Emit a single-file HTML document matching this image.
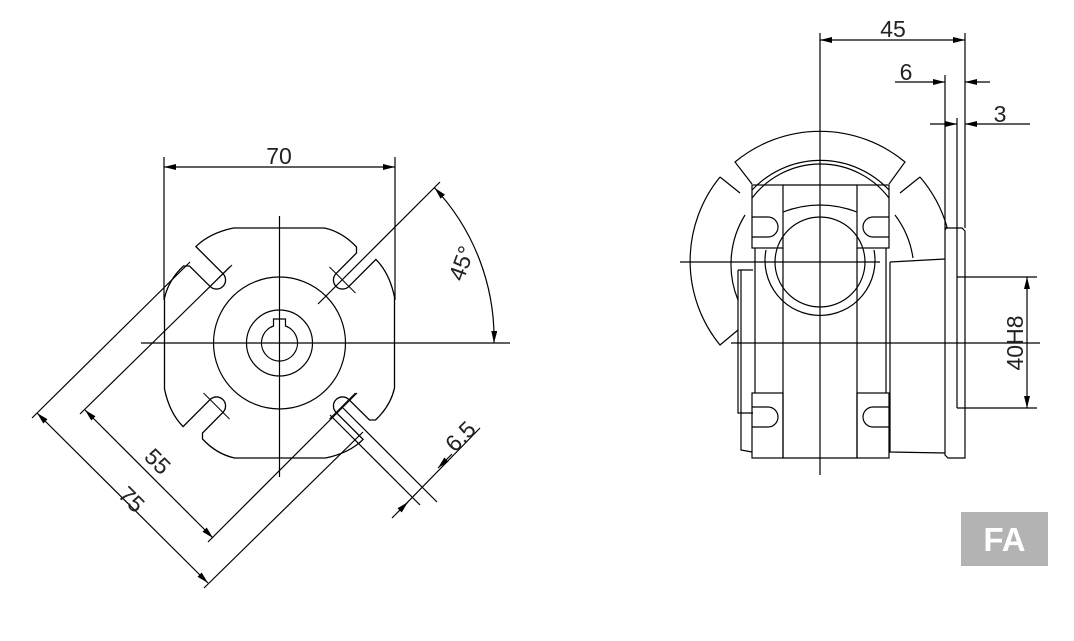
<!DOCTYPE html>
<html><head><style>html,body{margin:0;padding:0;background:#fff}svg{display:block}</style></head>
<body>
<svg width="1074" height="641" viewBox="0 0 1074 641" xmlns="http://www.w3.org/2000/svg">
<defs>
<marker id="a" viewBox="0 0 12 6" refX="12" refY="3" markerWidth="12" markerHeight="6" markerUnits="userSpaceOnUse" orient="auto-start-reverse"><path d="M0,0 L12,3 L0,6 Z" fill="#000"/></marker>
<g id="q">
<path d="M0,-115 L45,-115 Q63,-111 77,-96 L77,-90 L56.6,-69.4 A9 9 0 0 0 69.4,-56.6 L96.4,-83.6 Q110,-70 115,-46 L115,0" fill="none" stroke="#000" stroke-width="1.3"/>
<line x1="50" y1="-76" x2="76" y2="-50" stroke="#000" stroke-width="1"/>
</g>
</defs>
<g stroke="#000" fill="none" stroke-width="1.2">
<!-- LEFT VIEW -->
<g transform="translate(279.5,343)">
<use href="#q"/><use href="#q" transform="rotate(90)"/><use href="#q" transform="rotate(180)"/><use href="#q" transform="rotate(270)"/>
<circle r="66"/><circle r="33"/>
<path d="M-6,-24 L-6,-17 A18 18 0 1 0 6,-17 L6,-24 Z"/>
</g>
<line x1="141" y1="343" x2="510" y2="343"/>
<line x1="279.5" y1="216" x2="279.5" y2="477"/>
<!-- 70 -->
<line x1="164" y1="157" x2="164" y2="300"/>
<line x1="395" y1="157" x2="395" y2="300"/>
<line x1="164" y1="167" x2="395" y2="167" marker-start="url(#a)" marker-end="url(#a)"/>
<!-- 45 deg -->
<line x1="318" y1="304" x2="440" y2="182"/>
<path d="M434.6,187.9 A220 220 0 0 1 494,343" marker-start="url(#a)" marker-end="url(#a)"/>
<!-- 75 / 55 -->
<line x1="32" y1="418" x2="190" y2="262"/>
<line x1="80" y1="414" x2="232" y2="265"/>
<line x1="204" y1="588" x2="363" y2="432"/>
<line x1="208" y1="542" x2="357" y2="393"/>
<line x1="37" y1="413" x2="208" y2="583" marker-start="url(#a)" marker-end="url(#a)"/>
<line x1="85" y1="410" x2="213" y2="538" marker-start="url(#a)" marker-end="url(#a)"/>
<!-- 6.5 -->
<line x1="343" y1="408" x2="437" y2="502"/>
<line x1="330" y1="415" x2="420" y2="505"/>
<line x1="400" y1="510" x2="480" y2="428"/>
<line x1="392" y1="518" x2="408" y2="502" marker-end="url(#a)"/>
<line x1="452" y1="454" x2="438" y2="468" marker-end="url(#a)"/>

<!-- RIGHT VIEW -->
<path d="M752,184 L735,162 A133 133 0 0 1 905,162 L889,184"/>
<path d="M720,177 A133 133 0 0 0 720,345 L738,330"/>
<path d="M720,177 L740,193"/>
<path d="M920,177 A133 133 0 0 1 947,227 L945,230"/>
<path d="M920,177 L900,193"/>
<path d="M752,190 A94 94 0 0 1 889,190"/>
<path d="M752,198 A86 86 0 0 1 889,198"/>
<path d="M738,300 A94 94 0 0 1 745,215"/>
<path d="M895,215 A94 94 0 0 1 913,258"/>
<circle cx="820" cy="262" r="45"/>
<path d="M766,250 A55 55 0 1 0 874,250"/>
<rect x="752" y="185" width="31" height="63"/>
<rect x="857" y="185" width="32" height="63"/>
<path d="M783,185 L857,185 M783,212 Q820,198 857,212"/>
<path d="M752,217 L768,217 A10 10 0 0 1 768,237 L752,237"/>
<path d="M889,217 L873,217 A10 10 0 0 0 873,237 L889,237"/>
<path d="M755,248 L755,393 M783,248 L783,458 M857,248 L857,458 M886,248 L886,393"/>
<rect x="752" y="393" width="31" height="65"/>
<rect x="857" y="393" width="32" height="65"/>
<path d="M752,407 L768,407 A10 10 0 0 1 768,427 L752,427"/>
<path d="M889,407 L873,407 A10 10 0 0 0 873,427 L889,427"/>
<path d="M783,458 L857,458"/>
<path d="M738,270 L753,270 M738,270 L738,413 L753,413 M741,270 L741,450 L752,452"/>
<path d="M890,262 L945,259 M890,262 L890,452 L945,453"/>
<path d="M945,228 L962,228 L965,231 L965,458 L948,458 L945,455 Z"/>
<path d="M957,277 L957,408"/>
<line x1="820" y1="130" x2="820" y2="475"/>
<line x1="680" y1="262" x2="880" y2="262"/>
<line x1="731" y1="343" x2="1040" y2="343"/>
<line x1="820" y1="33" x2="820" y2="130"/>
<line x1="965" y1="33" x2="965" y2="228"/>
<line x1="820" y1="40" x2="965" y2="40" marker-start="url(#a)" marker-end="url(#a)"/>
<line x1="945" y1="75" x2="945" y2="228"/>
<line x1="957" y1="118" x2="957" y2="277"/>
<line x1="895" y1="82" x2="945" y2="82" marker-end="url(#a)"/>
<line x1="990" y1="82" x2="965" y2="82" marker-end="url(#a)"/>
<line x1="930" y1="124" x2="957" y2="124" marker-end="url(#a)"/>
<line x1="1030" y1="124" x2="965" y2="124" marker-end="url(#a)"/>
<line x1="957" y1="277" x2="1037" y2="277"/>
<line x1="957" y1="408" x2="1037" y2="408"/>
<line x1="1027" y1="277" x2="1027" y2="408" marker-start="url(#a)" marker-end="url(#a)"/>
</g>
<g font-family="Liberation Sans, sans-serif" font-size="23" fill="#222" text-anchor="middle">
<text x="279" y="164">70</text>
<text x="893" y="37">45</text>
<text x="906" y="80">6</text>
<text x="1000" y="122">3</text>
<text transform="translate(1023,343) rotate(-90)">40H8</text>
<text transform="translate(469,266) rotate(-70)">45°</text>
<text transform="translate(152,467) rotate(45)">55</text>
<text transform="translate(126,505) rotate(45)">75</text>
<text transform="translate(466,442) rotate(-45)">6.5</text>
</g>
<rect x="961" y="512" width="87" height="54" fill="#b3b3b3"/>
<text x="1004.5" y="551" font-family="Liberation Sans, sans-serif" font-weight="bold" font-size="33" fill="#fff" text-anchor="middle">FA</text>
</svg>
</body></html>
